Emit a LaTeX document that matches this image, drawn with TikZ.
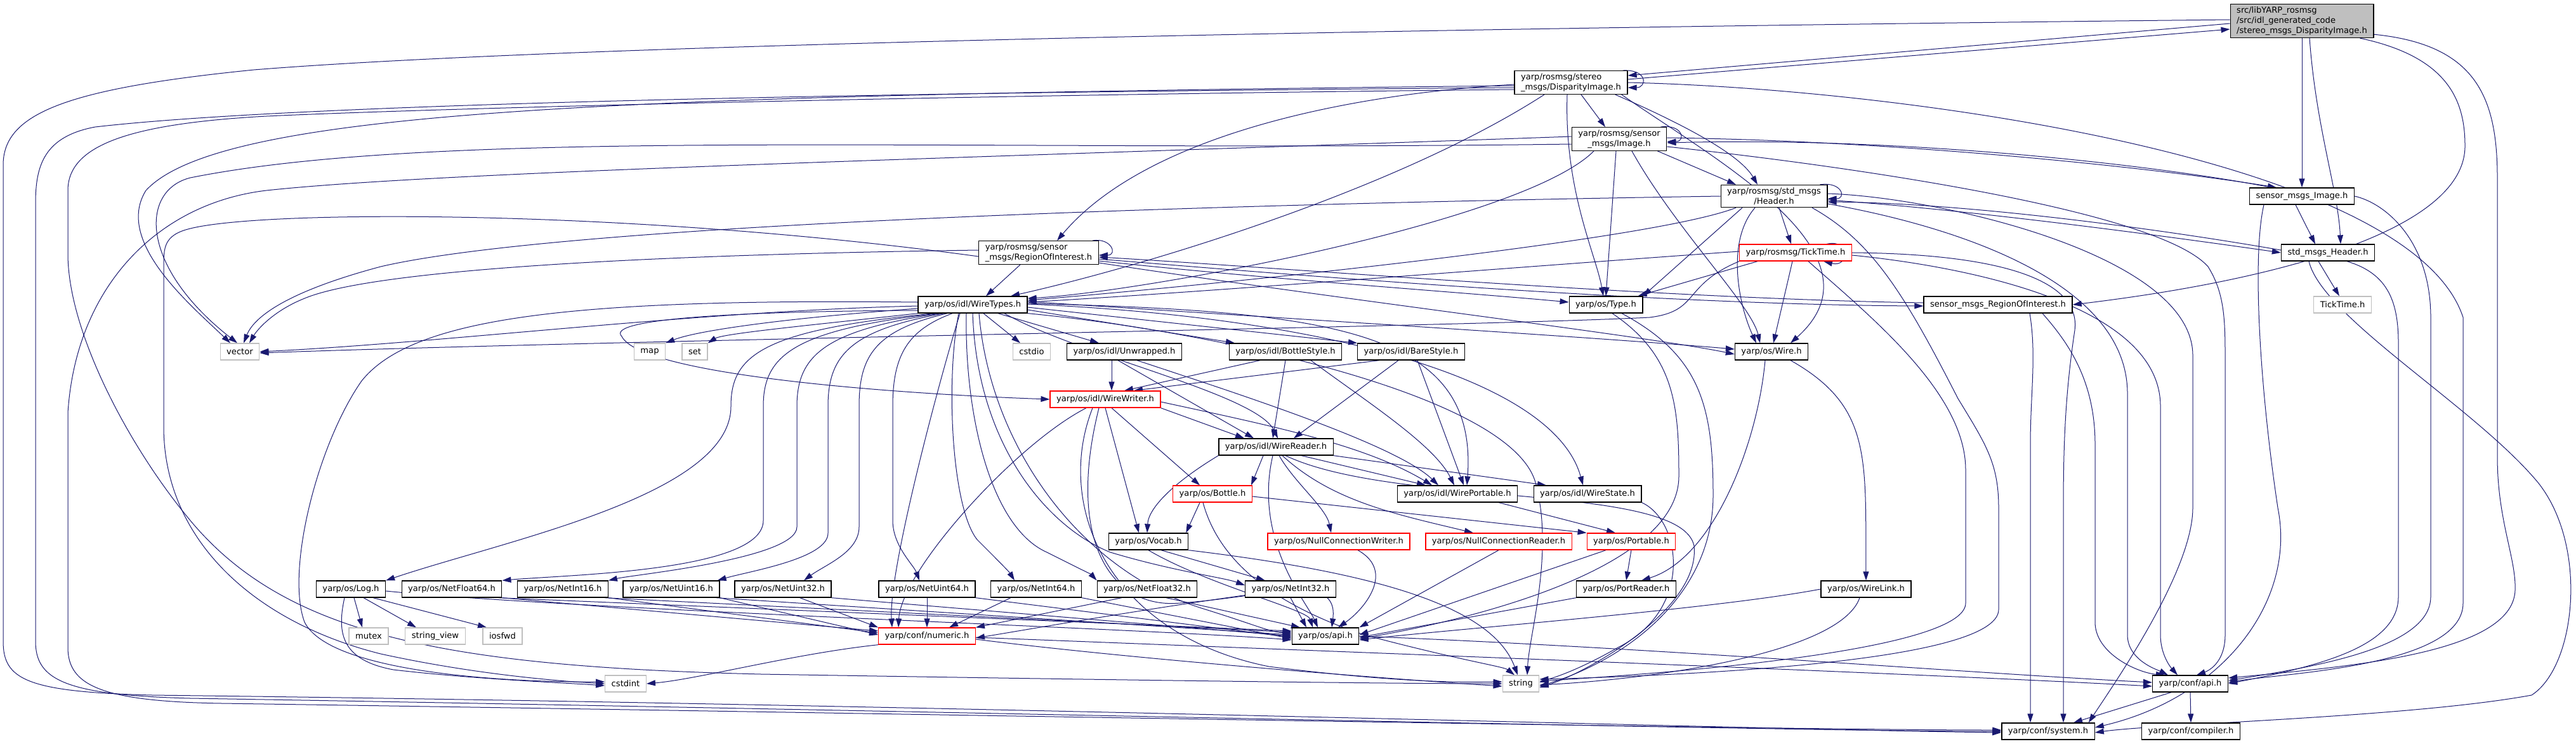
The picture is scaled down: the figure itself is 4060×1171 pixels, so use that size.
\documentclass[tikz,border=0pt]{standalone}
\usepackage{fontspec}
\usepackage{tikz}
\usetikzlibrary{arrows.meta,backgrounds}
\newfontfamily\dejavu{DejaVu Sans}
\definecolor{edgeblue}{HTML}{191970}
\definecolor{sysgray}{HTML}{BFBFBF}

\begin{document}
\begin{tikzpicture}[x=1pt,y=1pt,
    hbox/.style={draw=black,line width=1.3pt,fill=white,text=black,
      font=\dejavu\fontsize{13.1pt}{16pt}\selectfont,
      inner xsep=10pt,inner ysep=4pt,minimum height=26pt},
    redbox/.style={draw=red},
    sysbox/.style={hbox,draw=sysgray},
    rootbox/.style={fill=sysgray},
    dep/.style={draw=edgeblue,line width=1pt,-{Triangle[length=14pt,width=9pt]}}]
    \useasboundingbox (0,0) rectangle (4060,-1171);

    \node[hbox,rootbox,align=left] (root) at (3628,-33) {src/libYARP\_rosmsg\\/src/idl\_generated\_code\\/stereo\_msgs\_DisparityImage.h};
    \node[hbox,align=left] (dispimg) at (2476,-130) {yarp/rosmsg/stereo\\\_msgs/DisparityImage.h};
    \node[hbox,align=center] (senimg) at (2552,-219) {yarp/rosmsg/sensor\\\_msgs/Image.h};
    \node[hbox,align=center] (hdr) at (2796,-309) {yarp/rosmsg/std\_msgs\\/Header.h};
    \node[hbox] (smimg) at (3628,-309) {sensor\_msgs\_Image.h};
    \node[hbox,align=left] (roi) at (1637,-398) {yarp/rosmsg/sensor\\\_msgs/RegionOfInterest.h};
    \node[hbox,redbox] (ticktime) at (2830,-398) {yarp/rosmsg/TickTime.h};
    \node[hbox] (smhdr) at (3669,-398) {std\_msgs\_Header.h};
    \node[hbox] (wiretypes) at (1533,-480) {yarp/os/idl/WireTypes.h};
    \node[hbox] (type) at (2531,-480) {yarp/os/Type.h};
    \node[hbox] (smroi) at (3149,-480) {sensor\_msgs\_RegionOfInterest.h};
    \node[sysbox] (ticktimeh) at (3692,-480) {TickTime.h};
    \node[sysbox] (vector) at (378,-554) {vector};
    \node[sysbox] (map) at (1024,-554) {map};
    \node[sysbox] (set) at (1095,-554) {set};
    \node[sysbox] (cstdio) at (1626,-554) {cstdio};
    \node[hbox] (unwrapped) at (1772,-554) {yarp/os/idl/Unwrapped.h};
    \node[hbox] (bottlestyle) at (2026,-554) {yarp/os/idl/BottleStyle.h};
    \node[hbox] (barestyle) at (2224,-554) {yarp/os/idl/BareStyle.h};
    \node[hbox] (wire) at (2792,-554) {yarp/os/Wire.h};
    \node[hbox,redbox] (wirewriter) at (1742,-629) {yarp/os/idl/WireWriter.h};
    \node[hbox] (wirereader) at (2011,-704) {yarp/os/idl/WireReader.h};
    \node[hbox,redbox] (bottle) at (1911,-778) {yarp/os/Bottle.h};
    \node[hbox] (wireportable) at (2297,-778) {yarp/os/idl/WirePortable.h};
    \node[hbox] (wirestate) at (2502,-778) {yarp/os/idl/WireState.h};
    \node[hbox] (vocab) at (1810,-853) {yarp/os/Vocab.h};
    \node[hbox,redbox] (ncw) at (2110,-853) {yarp/os/NullConnectionWriter.h};
    \node[hbox,redbox] (ncr) at (2362,-853) {yarp/os/NullConnectionReader.h};
    \node[hbox,redbox] (portable) at (2571,-853) {yarp/os/Portable.h};
    \node[hbox] (log) at (553,-928) {yarp/os/Log.h};
    \node[hbox] (netfloat64) at (712,-928) {yarp/os/NetFloat64.h};
    \node[hbox] (netint16) at (887,-928) {yarp/os/NetInt16.h};
    \node[hbox] (netuint16) at (1058,-928) {yarp/os/NetUint16.h};
    \node[hbox] (netuint32) at (1234,-928) {yarp/os/NetUint32.h};
    \node[hbox] (netuint64) at (1461,-928) {yarp/os/NetUint64.h};
    \node[hbox] (netint64) at (1633,-928) {yarp/os/NetInt64.h};
    \node[hbox] (netfloat32) at (1808,-928) {yarp/os/NetFloat32.h};
    \node[hbox] (netint32) at (2034,-928) {yarp/os/NetInt32.h};
    \node[hbox] (portreader) at (2563,-928) {yarp/os/PortReader.h};
    \node[hbox] (wirelink) at (2941,-928) {yarp/os/WireLink.h};
    \node[sysbox] (mutex) at (581,-1002) {mutex};
    \node[sysbox] (stringview) at (686,-1002) {string\_view};
    \node[sysbox] (iosfwd) at (792,-1002) {iosfwd};
    \node[hbox,redbox] (numeric) at (1461,-1002) {yarp/conf/numeric.h};
    \node[hbox] (osapi) at (2089,-1002) {yarp/os/api.h};
    \node[sysbox] (cstdint) at (986,-1077) {cstdint};
    \node[sysbox] (string) at (2397,-1077) {string};
    \node[hbox] (confapi) at (3452,-1077) {yarp/conf/api.h};
    \node[hbox] (system) at (3228,-1152) {yarp/conf/system.h};
    \node[hbox] (compiler) at (3453,-1152) {yarp/conf/compiler.h};

    \begin{scope}[on background layer]
    \fill[white] (0,0) rectangle (4060,-1171);
    \draw[dep] ([yshift=-4pt]root.west) -- ([yshift=11pt]dispimg.east);
    \draw[dep] ([yshift=5pt]dispimg.east) -- ([yshift=-13pt]root.west);
    \draw[dep] ([xshift=-8pt]dispimg.north east) .. controls +(40,2) and +(30,0) .. ([yshift=-8pt]dispimg.east);
    \draw[dep] (root.south) -- (smimg.north);
    \draw[dep] ([xshift=12pt]root.south) .. controls (3650,-200) and (3685,-300) .. ([xshift=20pt]smhdr.north);
    \draw[dep] ([xshift=-22pt]root.south east) .. controls (3860,-90) and (3885,-160) .. (3885,-230) .. controls (3885,-360) and (3600,-440) .. (smroi.east);
    \draw[dep] ([yshift=6pt]root.south east) .. controls (3900,-70) and (3936,-150) .. (3936,-280) -- (3936,-720) .. controls (3936,-820) and (3966,-880) .. (3964,-930) .. controls (3960,-1030) and (3700,-1050) .. ([yshift=9pt]confapi.east);
    \draw[dep] ([yshift=2pt]root.west) .. controls (2200,-45) and (900,-70) .. (400,-110) .. controls (100,-140) and (5,-180) .. (5,-260) -- (5,-1010) .. controls (5,-1070) and (40,-1090) .. (240,-1095) .. controls (1500,-1110) and (2800,-1150) .. ([yshift=-2pt]system.west);

    \draw[dep] ([xshift=16pt]dispimg.south) -- ([xshift=-22pt]senimg.north);
    \draw[dep] ([xshift=-20pt]dispimg.south east) .. controls (2640,-190) and (2740,-240) .. ([xshift=-26pt]hdr.north);
    \draw[dep] ([yshift=-3pt]dispimg.west) .. controls (2100,-150) and (1800,-220) .. ([xshift=29pt]roi.north);
    \draw[dep] ([xshift=-42pt]dispimg.south) .. controls (2200,-300) and (1800,-420) .. ([xshift=60pt]wiretypes.north);
    \draw[dep] ([xshift=-6pt]dispimg.south) .. controls (2465,-300) and (2515,-400) .. ([xshift=-4pt]type.north);
    \draw[dep] ([xshift=-10pt]dispimg.south east) .. controls (2700,-250) and (2980,-400) .. ([xshift=30pt]wire.north);
    \draw[dep] ([yshift=-5pt]dispimg.west) .. controls (1000,-150) and (350,-170) .. (230,-300) .. controls (180,-380) and (300,-480) .. ([xshift=-15pt]vector.north);
    \draw[dep] ([yshift=-8pt]dispimg.west) .. controls (1500,-145) and (500,-160) .. (150,-200) .. controls (70,-215) and (56,-260) .. (56,-320) -- (56,-1010) .. controls (56,-1070) and (100,-1095) .. (300,-1100) .. controls (1500,-1120) and (2800,-1152) .. (system.west);
    \draw[dep] ([yshift=-11pt]dispimg.west) .. controls (1500,-150) and (700,-170) .. (420,-183) .. controls (200,-195) and (107,-230) .. (107,-300) -- (107,-400) .. controls (107,-520) and (200,-700) .. (300,-820) .. controls (450,-1000) and (700,-1050) .. (1200,-1062) .. controls (1800,-1072) and (2200,-1077) .. (string.west);
    \draw[dep] (dispimg.east) .. controls (3000,-140) and (3800,-250) .. (3882,-500) -- (3882,-950) .. controls (3882,-1050) and (3600,-1060) .. ([yshift=2pt]confapi.east);

    \draw[dep] ([xshift=-10pt]senimg.north east) .. controls +(35,5) and +(30,0) .. ([yshift=-4pt]senimg.east);
    \draw[dep] ([xshift=-48pt]smimg.north) .. controls (3400,-260) and (3000,-215) .. ([yshift=-6pt]senimg.east);
    \draw[dep] ([yshift=2pt]senimg.east) .. controls (3000,-222) and (3400,-265) .. ([xshift=-40pt]smimg.north);
    \draw[dep] ([xshift=-15pt]senimg.south east) -- ([xshift=-60pt]hdr.north);
    \draw[dep] ([xshift=-5pt]senimg.south) -- (type.north);
    \draw[dep] ([xshift=20pt]senimg.south) .. controls (2640,-360) and (2760,-480) .. ([xshift=-18pt]wire.north);
    \draw[dep] ([xshift=-40pt]senimg.south) .. controls (2400,-350) and (1800,-460) .. ([yshift=10pt]wiretypes.east);
    \draw[dep] ([yshift=-8pt]senimg.west) .. controls (1500,-240) and (700,-200) .. (300,-280) .. controls (220,-300) and (220,-420) .. ([xshift=-4pt]vector.north);
    \draw[dep] ([yshift=4pt]senimg.west) .. controls (1500,-250) and (700,-270) .. (420,-300) .. controls (250,-320) and (120,-450) .. (107,-650) -- (107,-1020) .. controls (107,-1080) and (160,-1105) .. (350,-1108) .. controls (1500,-1125) and (2800,-1150) .. ([yshift=2pt]system.west);
    \draw[dep] ([yshift=-12pt]senimg.east) .. controls (2900,-260) and (3400,-330) .. (3480,-420) .. controls (3505,-460) and (3507,-500) .. (3507,-560) -- (3507,-1000) .. controls (3507,-1040) and (3485,-1055) .. ([xshift=10pt]confapi.north);

    \draw[dep] ([xshift=-12pt]hdr.north east) .. controls +(35,5) and +(30,0) .. ([yshift=-4pt]hdr.east);
    \draw[dep] ([yshift=-6pt]hdr.east) .. controls (3100,-330) and (3400,-370) .. (smhdr.west);
    \draw[dep] ([yshift=4pt]smhdr.west) .. controls (3400,-360) and (3100,-320) .. ([yshift=-9pt]hdr.east);
    \draw[dep] ([xshift=8pt]hdr.south) -- ([xshift=-7pt]ticktime.north);
    \draw[dep] ([xshift=-50pt]hdr.south) -- (type.north east);
    \draw[dep] ([xshift=-30pt]hdr.south) .. controls (2720,-380) and (2740,-480) .. ([xshift=-24pt]wire.north);
    \draw[dep] ([xshift=-60pt]hdr.south) .. controls (2600,-380) and (1900,-450) .. ([yshift=7pt]wiretypes.east);
    \draw[dep] (hdr.west) .. controls (2000,-320) and (900,-350) .. (600,-420) .. controls (450,-460) and (400,-500) .. ([xshift=6pt]vector.north);
    \draw[dep] ([xshift=60pt]hdr.south) .. controls (2950,-380) and (3000,-460) .. (3086,-628) .. controls (3130,-700) and (3150,-730) .. (3150,-800) -- (3150,-960) .. controls (3150,-1030) and (2800,-1060) .. ([yshift=7pt]string.east);
    \draw[dep] ([yshift=-12pt]hdr.east) .. controls (3100,-360) and (3353,-450) .. (3353,-620) -- (3353,-1000) .. controls (3353,-1040) and (3400,-1055) .. ([xshift=-35pt]confapi.north);
    \draw[dep] ([yshift=4pt]hdr.east) .. controls (3050,-310) and (3456,-400) .. (3456,-560) -- (3456,-800) .. controls (3456,-900) and (3330,-1080) .. ([xshift=-10pt]system.north east);

    \draw[dep] ([xshift=-40pt]ticktime.north east) .. controls +(40,8) and +(40,-10) .. ([xshift=-45pt]ticktime.south east);
    \draw[dep] ([xshift=-60pt]ticktime.south) -- ([xshift=-8pt]type.north east);
    \draw[dep] ([xshift=-5pt]ticktime.south) -- ([xshift=3pt]wire.north);
    \draw[dep] ([yshift=2pt]ticktime.west) .. controls (2400,-420) and (1900,-460) .. ([yshift=4pt]wiretypes.east);
    \draw[dep] (ticktime.south west) .. controls (2650,-450) and (2680,-490) .. (2600,-500) .. controls (2300,-515) and (1000,-535) .. ([yshift=-2pt]vector.east);
    \draw[dep] ([xshift=20pt]ticktime.south) .. controls (2950,-500) and (3098,-620) .. (3098,-740) -- (3098,-950) .. controls (3098,-1010) and (2800,-1050) .. ([yshift=4pt]string.east);
    \draw[dep] (ticktime.east) .. controls (3150,-400) and (3280,-440) .. (3270,-520) .. controls (3255,-620) and (3252,-700) .. (3252,-800) -- ([xshift=24pt]system.north);
    \draw[dep] ([yshift=-4pt]ticktime.east) .. controls (3100,-420) and (3405,-480) .. (3405,-640) -- (3405,-1000) .. controls (3405,-1030) and (3420,-1050) .. ([xshift=-20pt]confapi.north);

    \draw[dep] ([xshift=-10pt]roi.north east) .. controls +(30,5) and +(30,0) .. ([yshift=-4pt]roi.east);
    \draw[dep] ([yshift=3pt]smroi.west) .. controls (2600,-470) and (2000,-420) .. ([yshift=-7pt]roi.east);
    \draw[dep] ([yshift=-10pt]roi.east) .. controls (2000,-430) and (2600,-480) .. ([yshift=-2pt]smroi.west);
    \draw[dep] ([xshift=-29pt]roi.south) -- ([xshift=21pt]wiretypes.north);
    \draw[dep] ([yshift=-13pt]roi.east) .. controls (2000,-440) and (2300,-460) .. ([yshift=4pt]type.west);
    \draw[dep] ([yshift=-16pt]roi.east) .. controls (2100,-470) and (2600,-530) .. ([yshift=-4pt]wire.west);
    \draw[dep] ([yshift=4pt]roi.west) .. controls (1100,-400) and (600,-420) .. (480,-470) .. controls (430,-490) and (405,-520) .. ([xshift=15pt]vector.north);
    \draw[dep] ([yshift=-6pt]roi.west) .. controls (1000,-330) and (420,-330) .. (300,-360) .. controls (258,-370) and (258,-390) .. (258,-420) -- (258,-672) .. controls (258,-850) and (400,-980) .. (600,-1030) .. controls (760,-1065) and (900,-1074) .. (cstdint.west);

    \draw[dep] ([xshift=-10pt]smimg.south) -- ([xshift=-20pt]smhdr.north);
    \draw[dep] (smimg.east) .. controls (3760,-320) and (3831,-380) .. (3831,-500) -- (3831,-940) .. controls (3831,-1020) and (3650,-1050) .. ([yshift=5pt]confapi.east);
    \draw[dep] ([xshift=-60pt]smimg.south) .. controls (3550,-400) and (3560,-600) .. (3590,-800) .. controls (3620,-950) and (3500,-1100) .. ([yshift=6pt]system.east);
    \draw[dep] ([xshift=-15pt]smhdr.south) -- ([xshift=-5pt]ticktimeh.north);
    \draw[dep] ([xshift=30pt]smhdr.south) .. controls (3760,-430) and (3780,-470) .. (3780,-540) -- (3780,-940) .. controls (3780,-1020) and (3650,-1050) .. (confapi.east);
    \draw[dep] ([xshift=-30pt]smhdr.south) .. controls (3660,-500) and (3900,-640) .. (4000,-760) .. controls (4080,-860) and (4060,-1050) .. (3990,-1095) .. controls (3800,-1130) and (3400,-1140) .. ([yshift=-2pt]system.east);
    \draw[dep] ([xshift=50pt]smroi.south) .. controls (3210,-560) and (3200,-620) .. (3200,-700) -- ([xshift=-28pt]system.north);
    \draw[dep] ([xshift=70pt]smroi.south) .. controls (3260,-540) and (3302,-600) .. (3302,-700) -- (3302,-980) .. controls (3302,-1030) and (3370,-1060) .. ([xshift=-40pt]confapi.north);

    \draw[dep] ([yshift=-2pt]wiretypes.west) .. controls (1100,-490) and (700,-540) .. (vector.east);
    \draw[dep] ([yshift=-6pt]wiretypes.west) .. controls (1250,-500) and (1100,-520) .. (map.north east);
    \draw[dep] (wiretypes.south west) .. controls (1300,-510) and (1140,-525) .. (set.north east);
    \draw[dep] ([xshift=17pt]wiretypes.south) -- ([xshift=-18pt]cstdio.north);
    \draw[dep] ([xshift=40pt]wiretypes.south) -- ([xshift=-40pt]unwrapped.north);
    \draw[dep] ([yshift=-8pt]wiretypes.east) -- ([xshift=-80pt]bottlestyle.north);
    \draw[dep] ([yshift=-4pt]wiretypes.east) -- (barestyle.north west);
    \draw[dep] ([yshift=2pt]wiretypes.east) .. controls (2100,-490) and (2330,-520) .. ([xshift=15pt]wireportable.north);
    \draw[dep] ([yshift=1pt]wiretypes.east) .. controls (2100,-500) and (2450,-600) .. ([xshift=-7pt]wirestate.north);
    \draw[dep] ([yshift=5pt]wiretypes.east) .. controls (2000,-500) and (2500,-530) .. ([yshift=4pt]wire.west);
    \draw[dep] ([yshift=-9pt]wiretypes.west) .. controls (1200,-490) and (950,-500) .. (980,-530) .. controls (1010,-590) and (1400,-620) .. (wirewriter.west);
    \draw[dep] ([xshift=50pt]wiretypes.south) .. controls (1700,-560) and (1980,-620) .. ([xshift=3pt]wirereader.north);
    \draw[dep] ([xshift=-60pt]wiretypes.south) .. controls (1200,-520) and (1152,-560) .. (1152,-640) .. controls (1152,-780) and (800,-850) .. (log.north east);
    \draw[dep] ([xshift=-55pt]wiretypes.south) .. controls (1250,-520) and (1203,-560) .. (1203,-640) -- (1203,-820) .. controls (1203,-900) and (900,-905) .. (netfloat64.north east);
    \draw[dep] ([xshift=-50pt]wiretypes.south) .. controls (1300,-520) and (1256,-560) .. (1256,-640) -- (1256,-830) .. controls (1256,-880) and (1000,-905) .. (netint16.north east);
    \draw[dep] ([xshift=-45pt]wiretypes.south) .. controls (1340,-520) and (1305,-560) .. (1305,-640) -- (1305,-840) .. controls (1305,-880) and (1180,-900) .. ([xshift=-4pt]netuint16.north east);
    \draw[dep] ([xshift=-40pt]wiretypes.south) .. controls (1380,-520) and (1354,-560) .. (1354,-640) -- (1354,-830) .. controls (1354,-870) and (1300,-890) .. ([xshift=33pt]netuint32.north);
    \draw[dep] ([xshift=-32pt]wiretypes.south) .. controls (1430,-520) and (1407,-560) .. (1407,-640) -- (1407,-820) .. controls (1407,-860) and (1440,-890) .. ([xshift=-12pt]netuint64.north);
    \draw[dep] ([xshift=-22pt]wiretypes.south) .. controls (1490,-600) and (1500,-800) .. (1540,-850) .. controls (1570,-880) and (1590,-900) .. ([xshift=-34pt]netint64.north);
    \draw[dep] ([xshift=-10pt]wiretypes.south) .. controls (1520,-650) and (1560,-830) .. (1650,-870) .. controls (1700,-895) and (1720,-905) .. (netfloat32.north west);
    \draw[dep] (wiretypes.south) .. controls (1540,-700) and (1650,-830) .. (1750,-870) .. controls (1850,-900) and (1930,-910) .. ([yshift=6pt]netint32.west);
    \draw[dep] ([xshift=-20pt]wiretypes.south) .. controls (1480,-600) and (1400,-900) .. ([xshift=-55pt]numeric.north);
    \draw[dep] ([xshift=10pt]wiretypes.south) .. controls (1560,-700) and (1700,-900) .. (1900,-960) .. controls (1980,-985) and (2000,-995) .. ([yshift=4pt]osapi.west);
    \draw[dep] (wiretypes.south east) .. controls (1900,-520) and (2380,-620) .. (2420,-760) .. controls (2450,-870) and (2410,-1000) .. ([xshift=10pt]string.north);
    \draw[dep] ([yshift=4pt]wiretypes.west) .. controls (900,-470) and (650,-500) .. (570,-600) .. controls (500,-700) and (450,-900) .. (480,-980) .. controls (520,-1060) and (800,-1075) .. ([yshift=3pt]cstdint.west);

    \draw[dep] ([xshift=-20pt]unwrapped.south) -- ([xshift=10pt]wirewriter.north);
    \draw[dep] ([xshift=-10pt]unwrapped.south) -- ([xshift=-35pt]wirereader.north);
    \draw[dep] ([xshift=20pt]unwrapped.south) .. controls (1950,-620) and (2200,-700) .. ([xshift=-30pt]wireportable.north);
    \draw[dep] ([xshift=-40pt]bottlestyle.south) -- ([xshift=30pt]wirewriter.north);
    \draw[dep] (bottlestyle.south) -- ([xshift=-5pt]wirereader.north);
    \draw[dep] ([xshift=40pt]bottlestyle.south) .. controls (2150,-630) and (2260,-700) .. ([xshift=-5pt]wireportable.north);
    \draw[dep] ([xshift=-50pt]barestyle.south) -- ([xshift=45pt]wirewriter.north);
    \draw[dep] ([xshift=-20pt]barestyle.south) -- ([xshift=28pt]wirereader.north);
    \draw[dep] ([xshift=10pt]barestyle.south) -- ([xshift=10pt]wireportable.north);

    \draw[dep] (wirewriter.south east) -- ([xshift=-50pt]wirereader.north);
    \draw[dep] ([xshift=10pt]wirewriter.south) -- ([xshift=-20pt]bottle.north);
    \draw[dep] (wirewriter.south) -- ([xshift=-15pt]vocab.north);
    \draw[dep] ([yshift=-4pt]wirewriter.east) .. controls (2000,-670) and (2150,-700) .. ([xshift=-40pt]wireportable.north);
    \draw[dep] ([xshift=-30pt]wirewriter.south) .. controls (1600,-700) and (1420,-900) .. ([xshift=-45pt]numeric.north);
    \draw[dep] ([xshift=-10pt]wirewriter.south) .. controls (1680,-850) and (1750,-960) .. (1860,-950) .. controls (2000,-940) and (2110,-900) .. ([xshift=10pt]osapi.north);
    \draw[dep] ([xshift=-20pt]wirewriter.south) .. controls (1660,-800) and (1750,-1000) .. (2000,-1050) .. controls (2200,-1075) and (2300,-1075) .. ([yshift=3pt]string.west);

    \draw[dep] ([xshift=-20pt]wirereader.south) -- ([xshift=-2pt]bottle.north east);
    \draw[dep] (wirereader.south west) .. controls (1850,-760) and (1810,-800) .. ([xshift=-2pt]vocab.north);
    \draw[dep] ([xshift=40pt]wirereader.south) -- ([xshift=-50pt]wireportable.north);
    \draw[dep] (wirereader.south east) -- ([xshift=-65pt]wirestate.north);
    \draw[dep] ([xshift=5pt]wirereader.south) .. controls (2040,-760) and (2090,-800) .. ([xshift=-12pt]ncw.north);
    \draw[dep] ([xshift=10pt]wirereader.south) .. controls (2100,-790) and (2200,-810) .. ([xshift=-40pt]ncr.north);
    \draw[dep] ([xshift=-5pt]wirereader.south) .. controls (1975,-850) and (2060,-950) .. ([xshift=-12pt]osapi.north);
    \draw[dep] ([xshift=15pt]wirereader.south) .. controls (2200,-800) and (2650,-760) .. (2670,-860) .. controls (2680,-960) and (2500,-1060) .. ([yshift=-6pt]string.east);

    \draw[dep] ([xshift=-20pt]bottle.south) -- ([xshift=-4pt]vocab.north east);
    \draw[dep] ([yshift=-4pt]bottle.east) -- (portable.north west);
    \draw[dep] ([xshift=-15pt]bottle.south) .. controls (1920,-880) and (2000,-950) .. (2150,-1000) .. controls (2300,-1040) and (2370,-1050) .. ([xshift=-10pt]string.north);
    \draw[dep] ([xshift=20pt]vocab.south) -- ([xshift=-40pt]netint32.north);
    \draw[dep] (vocab.south) .. controls (1900,-920) and (2060,-960) .. ([xshift=-20pt]osapi.north);
    \draw[dep] (vocab.south east) .. controls (2150,-900) and (2350,-950) .. ([xshift=-5pt]string.north);
    \draw[dep] ([xshift=-30pt]wireportable.south east) -- ([xshift=-25pt]portable.north);
    \draw[dep] (wirestate.south east) .. controls (2650,-820) and (2670,-960) .. (2550,-1020) .. controls (2480,-1060) and (2440,-1070) .. ([yshift=2pt]string.east);
    \draw[dep] ([xshift=30pt]ncw.south) .. controls (2200,-900) and (2150,-960) .. ([xshift=20pt]osapi.north);
    \draw[dep] (ncr.south) -- (osapi.north east);
    \draw[dep] (portable.south) -- (portreader.north);
    \draw[dep] ([xshift=-40pt]portable.south) -- ([yshift=2pt]osapi.east);
    \draw[dep] (portreader.south west) -- ([yshift=-2pt]osapi.east);
    \draw[dep] ([xshift=-10pt]wire.south) .. controls (2770,-700) and (2700,-880) .. ([xshift=24pt]portreader.north);
    \draw[dep] ([xshift=30pt]wire.south) .. controls (2950,-640) and (2940,-720) .. (wirelink.north);
    \draw[dep] (wirelink.west) .. controls (2700,-960) and (2300,-990) .. ([yshift=-6pt]osapi.east);
    \draw[dep] ([xshift=-10pt]wirelink.south) .. controls (2900,-1030) and (2600,-1070) .. ([yshift=-2pt]string.east);
    \draw[dep] ([xshift=10pt]type.south) .. controls (2640,-560) and (2646,-640) .. (2646,-750) .. controls (2646,-900) and (2300,-980) .. ([yshift=-4pt]osapi.east);
    \draw[dep] ([xshift=25pt]type.south) .. controls (2680,-560) and (2700,-640) .. (2700,-780) .. controls (2700,-940) and (2560,-1040) .. ([yshift=-4pt]string.east);

    \draw[dep] ([xshift=5pt]log.south) -- ([xshift=-10pt]mutex.north);
    \draw[dep] ([xshift=20pt]log.south) -- ([xshift=-30pt]stringview.north);
    \draw[dep] ([xshift=35pt]log.south) -- ([xshift=-25pt]iosfwd.north);
    \draw[dep] ([xshift=-10pt]log.south) .. controls (530,-1000) and (540,-1040) .. (620,-1055) .. controls (750,-1070) and (880,-1075) .. ([yshift=-3pt]cstdint.west);
    \draw[dep] ([yshift=-3pt]log.east) .. controls (900,-960) and (1800,-990) .. ([yshift=-6pt]osapi.west);
    \draw[dep] (netfloat64.south east) -- ([yshift=8pt]numeric.west);
    \draw[dep] ([xshift=-6pt]netfloat64.south east) -- ([yshift=8pt]osapi.west);
    \draw[dep] (netint16.south east) -- ([yshift=5pt]numeric.west);
    \draw[dep] ([xshift=-6pt]netint16.south east) -- ([yshift=6pt]osapi.west);
    \draw[dep] (netuint16.south east) -- ([yshift=2pt]numeric.west);
    \draw[dep] ([xshift=-6pt]netuint16.south east) -- ([yshift=2pt]osapi.west);
    \draw[dep] ([xshift=-50pt]netuint32.south east) -- (numeric.north west);
    \draw[dep] (netuint32.south east) -- (osapi.west);
    \draw[dep] (netuint64.south) -- (numeric.north);
    \draw[dep] (netuint64.south east) -- ([yshift=-2pt]osapi.west);
    \draw[dep] ([xshift=-40pt]netint64.south) -- ([xshift=35pt]numeric.north);
    \draw[dep] (netint64.south east) -- ([yshift=-4pt]osapi.west);
    \draw[dep] ([xshift=-40pt]netfloat32.south) -- (numeric.north east);
    \draw[dep] ([xshift=30pt]netfloat32.south) -- ([xshift=-40pt]osapi.north);
    \draw[dep] ([yshift=4pt]netint32.south west) .. controls (1800,-960) and (1600,-995) .. ([yshift=-3pt]numeric.east);
    \draw[dep] (netint32.south) -- ([xshift=-30pt]osapi.north);

    \draw[dep] (numeric.south west) .. controls (1250,-1030) and (1100,-1070) .. (cstdint.east);
    \draw[dep] ([yshift=-5pt]numeric.east) .. controls (1800,-1040) and (2200,-1070) .. ([yshift=-4pt]string.west);
    \draw[dep] ([yshift=-2pt]numeric.east) .. controls (2200,-1030) and (3000,-1060) .. ([yshift=-4pt]confapi.west);
    \draw[dep] (osapi.east) .. controls (2600,-1020) and (3100,-1060) .. ([yshift=2pt]confapi.west);
    \draw[dep] ([xshift=-30pt]confapi.south) -- ([xshift=40pt]system.north);
    \draw[dep] (confapi.south) -- (compiler.north);
    \end{scope}
\end{tikzpicture}
\end{document}
